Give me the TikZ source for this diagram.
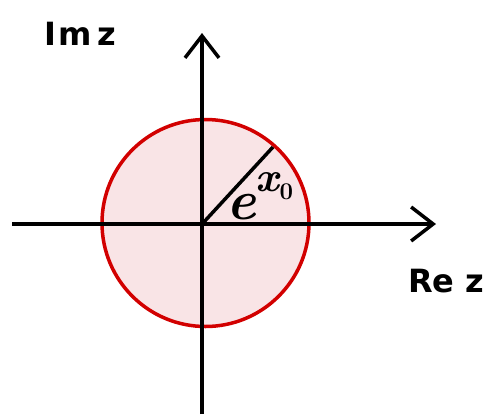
\documentclass[tikz,border=0pt]{standalone}
\usepackage{fontspec}
\setsansfont{DejaVu Sans}
\usetikzlibrary{arrows.meta}
\definecolor{diskfill}{RGB}{249,228,230}
\definecolor{diskred}{RGB}{210,0,0}
\tikzset{
  axis/.style={line width=3.5pt, -{Straight Barb[length=22pt,width=34pt,line width=3.5pt]}},
  hand/.style={font=\sffamily\bfseries\fontsize{32}{34}\selectfont, inner sep=0pt}
}
\begin{document}
\begin{tikzpicture}[x=1pt,y=-1pt]
\useasboundingbox (0,0) rectangle (485,416);
\coordinate (O) at (203,223);
\node[circle, minimum size=207pt, inner sep=0pt, fill=diskfill, draw=diskred, line width=3.5pt] (disk) at (205.5,223) {};
\coordinate (xl) at (12,224);
\coordinate (xr) at (436,224);
\coordinate (yb) at (202,414);
\coordinate (yt) at (202,33);
\draw[axis] (xl) -- (xr);
\draw[axis] (yb) -- (yt);
\coordinate (R) at (273,147);
\draw[line width=3.5pt] (O) -- (R);
\node[hand, anchor=west] (im) at (44,34) {I\kern2pt m\kern6pt z};
\node[hand, anchor=west] (re) at (408,281) {Re z};
\node[inner sep=0pt, anchor=base west] (lab) at (226,219) {\fontsize{56}{56}\selectfont\bfseries\itshape e\raisebox{28pt}{\fontsize{42}{42}\selectfont x\raisebox{-8pt}{\fontsize{24}{24}\selectfont\upshape 0}}};
\end{tikzpicture}
\end{document}
